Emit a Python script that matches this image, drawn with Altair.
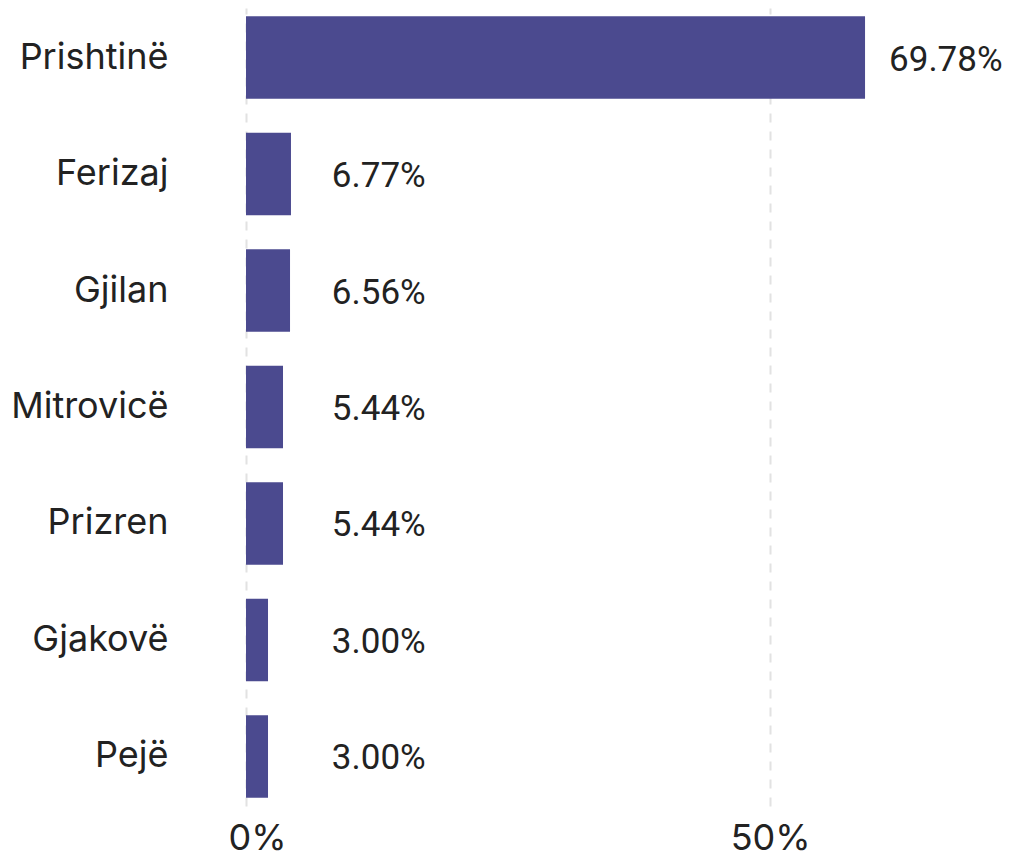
import altair as alt
import pandas as pd

cities = ["Prishtinë", "Ferizaj", "Gjilan", "Mitrovicë", "Prizren", "Gjakovë", "Pejë"]
bar_values = [59.05, 4.29, 4.20, 3.53, 3.53, 2.10, 2.10]
label_values = [69.78, 6.77, 6.56, 5.44, 5.44, 3.00, 3.00]
tick_values = [0, 50]

df = pd.DataFrame({"city": cities, "bar": bar_values, "pct": label_values})

FONT = "Inter"
NUM_FONT = "Roboto"
TEXT = "#222222"
BAR = "#4B4A8F"

y_enc = alt.Y(
    "city:N",
    sort=cities,
    title=None,
    scale=alt.Scale(paddingInner=0.29, paddingOuter=0.07),
    axis=alt.Axis(
        ticks=False, domain=False, grid=False,
        labelFont=FONT, labelFontSize=36, labelColor=TEXT,
        labelPadding=78, labelLimit=400,
    ),
)

x_enc = alt.X(
    "bar:Q",
    title=None,
    scale=alt.Scale(domain=[0, 60], nice=False, zero=True),
    axis=alt.Axis(
        values=tick_values,
        labelExpr="datum.value + '%'",
        ticks=False, domain=False,
        grid=True, gridColor="#e2e2e2", gridWidth=2, gridDash=[9, 9],
        labelFont=FONT, labelFontSize=36, labelColor=TEXT,
        labelPadding=15, labelFlush=False,
        labelOffset={"condition": {"test": "datum.value == 0", "value": 11}, "value": 0},
    ),
)

bars = alt.Chart(df).mark_bar(color=BAR).encode(y=y_enc, x=x_enc)

labels = alt.Chart(df).transform_calculate(
    lx="max(datum.bar, 5.9)",
    txt="format(datum.pct, '.2f') + '%'",
).mark_text(
    align="left", baseline="middle", dx=24, dy=2,
    font=NUM_FONT, fontSize=35, color=TEXT,
).encode(
    y=alt.Y("city:N", sort=cities),
    x=alt.X("lx:Q"),
    text="txt:N",
)

chart = alt.layer(bars, labels).properties(
    width=629, height=798,
    background="white",
    autosize=alt.AutoSizeParams(type="none"),
    padding={"left": 238, "top": 0, "right": 130, "bottom": 51},
).configure_view(stroke=None, strokeWidth=0)

chart.save("out.html", embed_options={"renderer": "svg", "actions": False})
